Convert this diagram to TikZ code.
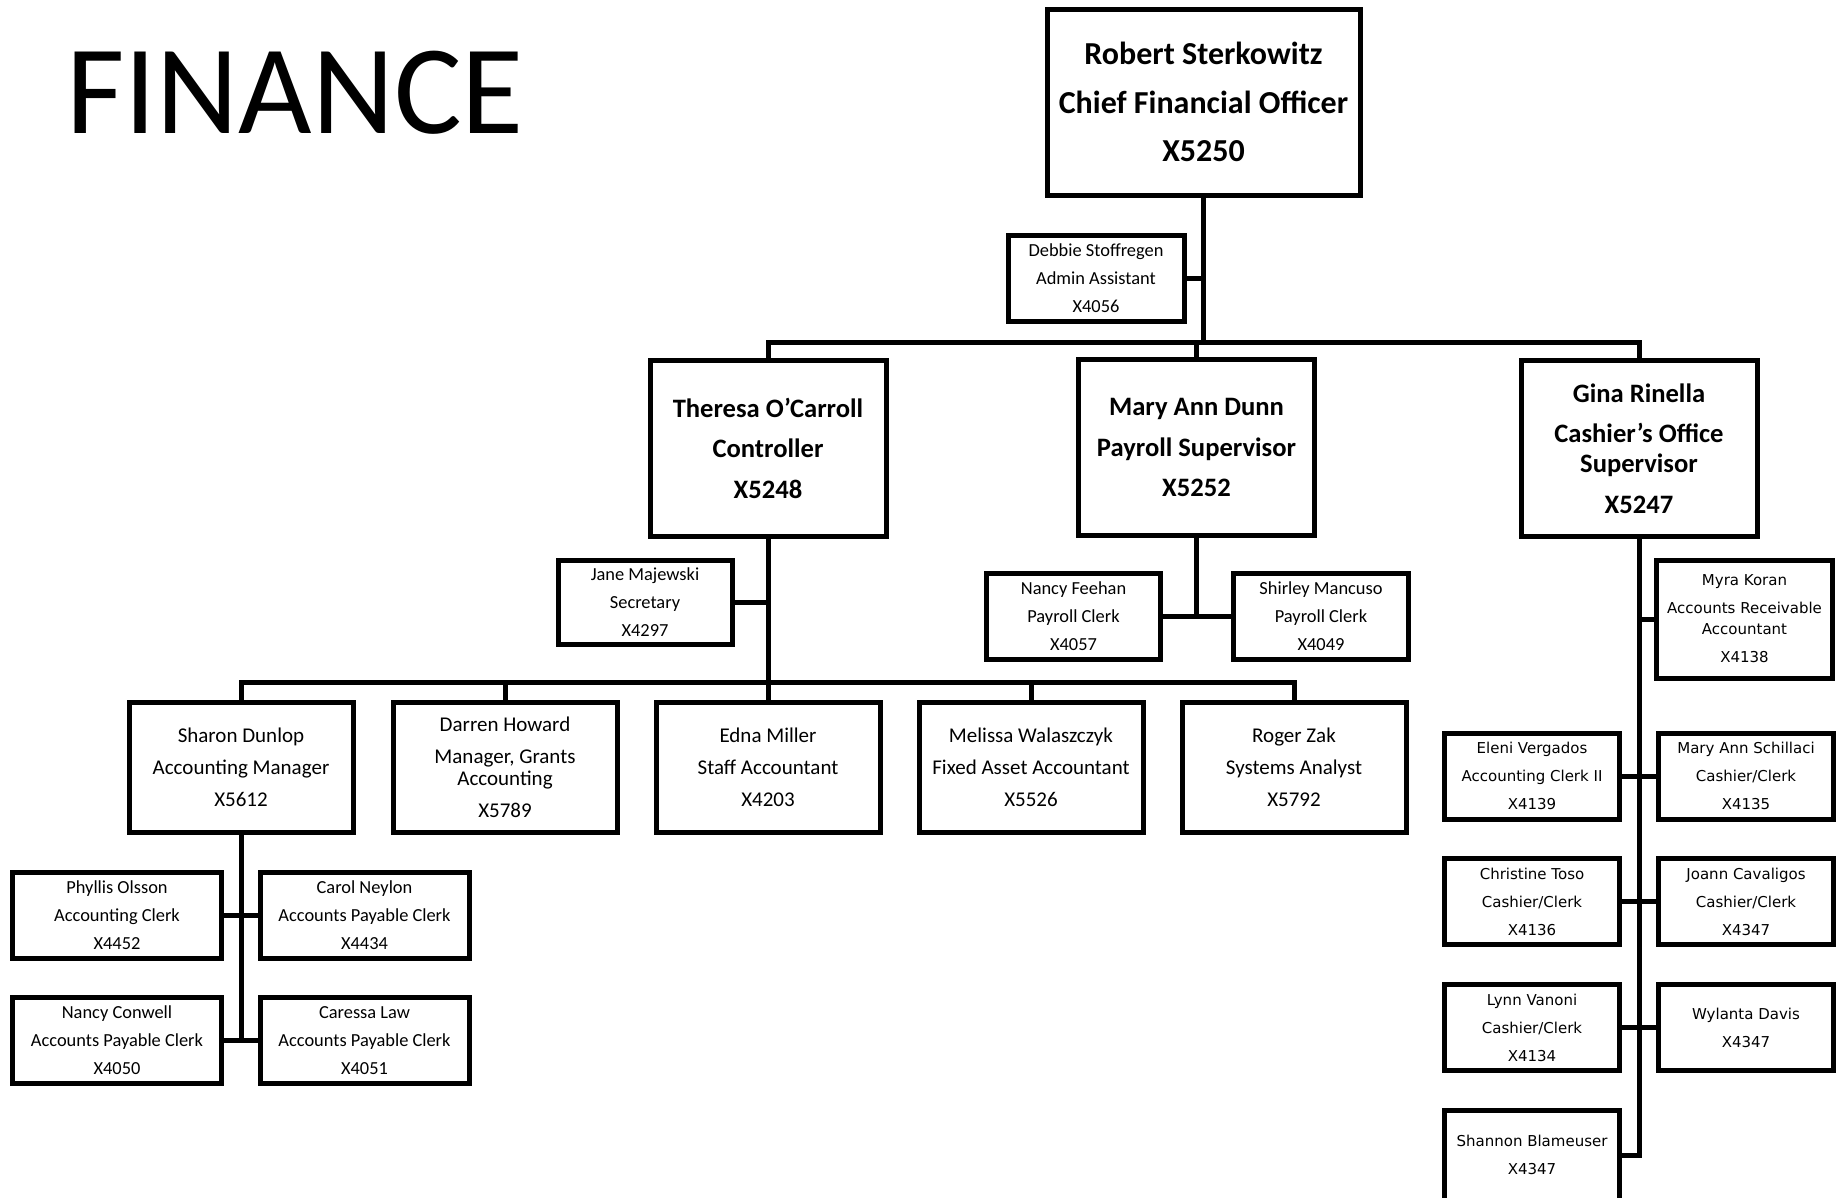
\documentclass[tikz,border=0pt]{standalone}
\usepackage{fontspec}
\setmainfont{Carlito}
\newfontfamily\verd{DejaVu Sans}
\begin{document}
\begin{tikzpicture}[x=1pt,y=-1pt,
  box/.style={draw=black,line width=5pt,rectangle,inner sep=0pt,align=center,fill=white},
  cfostyle/.style={box,font={\fontsize{32pt}{48.5pt}\selectfont\bfseries}},
  headstyle/.style={box,font={\fontsize{26.6pt}{40.5pt}\selectfont\bfseries}},
  midstyle/.style={box,font={\fontsize{21pt}{32pt}\selectfont}},
  smallstyle/.style={box,font={\fontsize{18.4pt}{28pt}\selectfont}},
  cashstyle/.style={box,font={\verd\fontsize{15pt}{28pt}\selectfont}},
  conn/.style={draw=black,line width=5pt,line join=miter}
]
\useasboundingbox (0,0) rectangle (1841,1197);
\node[anchor=base west,inner sep=0pt,font={\fontsize{127pt}{132pt}\selectfont}] (title) at (66,133) {FINANCE};

% CFO and admin
\node[cfostyle,minimum width=313pt,minimum height=186pt] (cfo) at (1203.5,102) {Robert Sterkowitz\\Chief Financial Officer\\X5250};
\node[smallstyle,minimum width=176pt,minimum height=86pt] (debbie) at (1096,278) {Debbie Stoffregen\\Admin Assistant\\X4056};

% heads
\node[headstyle,minimum width=236pt,minimum height=176pt] (theresa) at (768,448) {Theresa O’Carroll\\Controller\\X5248};
\node[headstyle,minimum width=236pt,minimum height=176pt] (maryann) at (1196.5,447.5) {Mary Ann Dunn\\Payroll Supervisor\\X5252};
\node[headstyle,minimum width=236pt,minimum height=176pt] (gina) at (1639,448.5) {Gina Rinella\\Cashier’s Office\\[-10.5pt]Supervisor\\X5247};

% controller team
\node[smallstyle,minimum width=174pt,minimum height=84pt] (jane) at (645,602) {Jane Majewski\\Secretary\\X4297};
\node[midstyle,minimum width=224pt,minimum height=130pt] (sharon) at (241,767) {Sharon Dunlop\\Accounting Manager\\X5612};
\node[midstyle,minimum width=224pt,minimum height=130pt] (darren) at (505,767) {Darren Howard\\Manager, Grants\\[-10pt]Accounting\\X5789};
\node[midstyle,minimum width=224pt,minimum height=130pt] (edna) at (768,767) {Edna Miller\\Staff Accountant\\X4203};
\node[midstyle,minimum width=224pt,minimum height=130pt] (melissa) at (1031,767) {Melissa Walaszczyk\\Fixed Asset Accountant\\X5526};
\node[midstyle,minimum width=224pt,minimum height=130pt] (roger) at (1294,767) {Roger Zak\\Systems Analyst\\X5792};

% accounting manager team
\node[smallstyle,minimum width=209pt,minimum height=86pt] (phyllis) at (117,915) {Phyllis Olsson\\Accounting Clerk\\X4452};
\node[smallstyle,minimum width=209pt,minimum height=86pt] (carol) at (364.5,915) {Carol Neylon\\Accounts Payable Clerk\\X4434};
\node[smallstyle,minimum width=209pt,minimum height=86pt] (nancyc) at (117,1040.5) {Nancy Conwell\\Accounts Payable Clerk\\X4050};
\node[smallstyle,minimum width=209pt,minimum height=86pt] (caressa) at (364.5,1040.5) {Caressa Law\\Accounts Payable Clerk\\X4051};

% payroll team
\node[smallstyle,minimum width=174pt,minimum height=86pt] (nancyf) at (1073.5,616) {Nancy Feehan\\Payroll Clerk\\X4057};
\node[smallstyle,minimum width=175pt,minimum height=86pt] (shirley) at (1321,616) {Shirley Mancuso\\Payroll Clerk\\X4049};

% cashier team
\node[cashstyle,minimum width=176pt,minimum height=118pt] (myra) at (1744.5,619) {Myra Koran\\Accounts Receivable\\[-7pt]Accountant\\X4138};
\node[cashstyle,minimum width=175pt,minimum height=86pt] (eleni) at (1532,776) {Eleni Vergados\\Accounting Clerk II\\X4139};
\node[cashstyle,minimum width=175pt,minimum height=86pt] (schillaci) at (1746,776) {Mary Ann Schillaci\\Cashier/Clerk\\X4135};
\node[cashstyle,minimum width=175pt,minimum height=86pt] (christine) at (1532,901.5) {Christine Toso\\Cashier/Clerk\\X4136};
\node[cashstyle,minimum width=175pt,minimum height=86pt] (joann) at (1746,901.5) {Joann Cavaligos\\Cashier/Clerk\\X4347};
\node[cashstyle,minimum width=175pt,minimum height=86pt] (lynn) at (1532,1027.5) {Lynn Vanoni\\Cashier/Clerk\\X4134};
\node[cashstyle,minimum width=175pt,minimum height=86pt] (wylanta) at (1746,1027.5) {Wylanta Davis\\X4347};
\node[cashstyle,minimum width=175pt,minimum height=90pt] (shannon) at (1532,1155) {Shannon Blameuser\\X4347};

% connectors
\coordinate (b1) at (1203.5,342);
\coordinate (b2) at (768,682);
\draw[conn] (cfo.south) -- (b1);
\draw[conn] (debbie.east) -- (debbie.east -| cfo.south);
\draw[conn] (theresa.north) |- (gina.north |- b1) -- (gina.north);
\draw[conn] (maryann.north) -- (maryann.north |- b1);

\draw[conn] (theresa.south) -- (b2);
\draw[conn] (jane.east) -- (jane.east -| theresa.south);
\draw[conn] (sharon.north) |- (roger.north |- b2) -- (roger.north);
\draw[conn] (darren.north) -- (darren.north |- b2);
\draw[conn] (edna.north) -- (edna.north |- b2);
\draw[conn] (melissa.north) -- (melissa.north |- b2);

\draw[conn] (sharon.south) -- (sharon.south |- caressa.west);
\draw[conn] (phyllis.east) -- (carol.west);
\draw[conn] (nancyc.east) -- (caressa.west);

\draw[conn] (maryann.south) -- (maryann.south |- nancyf.east);
\draw[conn] (nancyf.east) -- (shirley.west);

\draw[conn] (gina.south) |- (shannon.east);
\draw[conn] (myra.west) -- (myra.west -| gina.south);
\draw[conn] (eleni.east) -- (schillaci.west);
\draw[conn] (christine.east) -- (joann.west);
\draw[conn] (lynn.east) -- (wylanta.west);
\end{tikzpicture}
\end{document}
